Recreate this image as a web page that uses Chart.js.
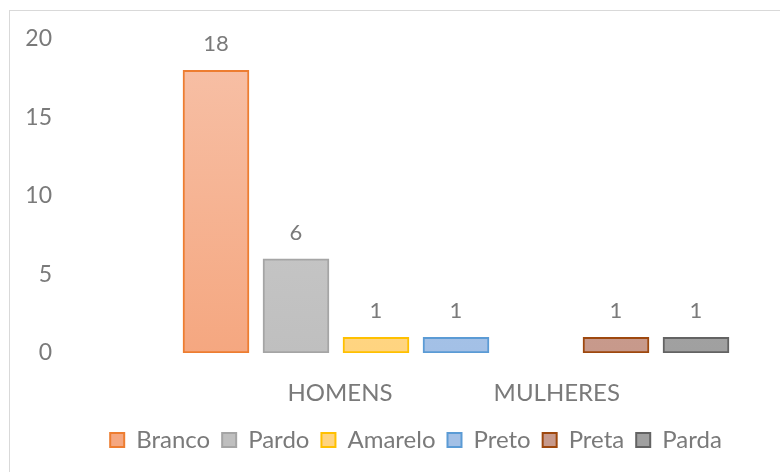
<!DOCTYPE html>
<html lang="pt">
<head>
    <meta charset="UTF-8">
    <title>Cor por sexo</title>
    <script src="https://cdn.jsdelivr.net/npm/chart.js"></script>
    <style>
        html, body { margin: 0; padding: 0; overflow: hidden; background: #fff; }
        #wrap { position: relative; width: 780px; height: 472px; }
        #frame { position: absolute; left: 9px; top: 10px; width: 820px; height: 520px;
                 border: 1px solid #d9d9d9; box-sizing: border-box; }
        canvas { position: absolute; left: 0; top: 0; }
    </style>
</head>
<body>
<div id="wrap">
    <div id="frame"></div>
    <canvas id="myChart" width="780" height="472"></canvas>
</div>

<script>
    // dados
    const categories = ['HOMENS', 'MULHERES'];
    const series = ['Branco', 'Pardo', 'Amarelo', 'Preto', 'Preta', 'Parda'];
    const homens = [18, 6, 1, 1, null, null];
    const mulheres = [null, null, null, null, 1, 1];
    const yTicks = [0, 5, 10, 15, 20];

    // layout (posicao das barras e dos rotulos das categorias no eixo x)
    const seriesSlot = [0, 1, 2, 3, 5, 6];
    const categoryPos = [1.55, 4.26];

    const textColor = '#7a7a7a';
    const fontFamily = 'Lato, "Open Sans", sans-serif';

    // cores: [topo, base, borda]
    const colors = [
        ['#f7c1a8', '#f5a780', '#ed7d31'],
        ['#cfcfcf', '#bfbfbf', '#a5a5a5'],
        ['#ffdb94', '#ffd480', '#ffc000'],
        ['#b0cbea', '#a3c0e6', '#5b9bd5'],
        ['#cda398', '#c7998b', '#9e480e'],
        ['#adadad', '#a0a0a0', '#636363']
    ];

    function f_grad(i){
        return function(ctx){
            const chart = ctx.chart;
            const area = chart.chartArea;
            if(!area) return colors[i][1];
            const g = chart.ctx.createLinearGradient(0, area.top, 0, area.bottom);
            g.addColorStop(0, colors[i][0]);
            g.addColorStop(1, colors[i][1]);
            return g;
        };
    }

    const datasets = series.map(function(name, i){
        const v = homens[i] !== null ? homens[i] : mulheres[i];
        return {
            label: name,
            data: [{x: seriesSlot[i], y: v}],
            backgroundColor: f_grad(i),
            borderColor: colors[i][2],
            borderWidth: 2,
            borderSkipped: false,
            grouped: false,
            barThickness: 66
        };
    });

    // rotulos de valor em cima das barras
    const valueLabels = {
        id: 'valueLabels',
        afterDatasetsDraw(chart){
            const c = chart.ctx;
            c.save();
            c.font = '22px ' + fontFamily;
            c.fillStyle = textColor;
            c.textAlign = 'center';
            c.textBaseline = 'middle';
            chart.data.datasets.forEach(function(ds, di){
                chart.getDatasetMeta(di).data.forEach(function(el, k){
                    c.fillText(String(ds.data[k].y), el.x, el.y - 26);
                });
            });
            c.restore();
        }
    };

    const ctx = document.getElementById('myChart').getContext('2d');
    const myChart = new Chart(ctx, {
        type: 'bar',
        data: { datasets: datasets },
        options: {
            responsive: false,
            animation: false,
            layout: { padding: { left: 0, right: 10, top: 39, bottom: 10 } },
            scales: {
                x: {
                    type: 'linear',
                    display: false,
                    offset: false,
                    min: -1.925,
                    max: 6.925
                },
                x2: {
                    type: 'linear',
                    position: 'bottom',
                    offset: false,
                    min: -1.925,
                    max: 6.925,
                    grid: { display: false, drawTicks: false },
                    border: { display: false },
                    afterBuildTicks: function(axis){
                        axis.ticks = categoryPos.map(function(p){ return {value: p}; });
                    },
                    afterFit: function(axis){
                        axis.height = 63;
                        axis.paddingLeft = 0;
                        axis.paddingRight = 0;
                    },
                    ticks: {
                        padding: 26,
                        color: textColor,
                        font: { family: fontFamily, size: 24 },
                        autoSkip: false,
                        maxRotation: 0,
                        callback: function(val, idx){ return categories[idx]; }
                    }
                },
                y: {
                    min: 0,
                    max: 20,
                    grid: { display: false, drawTicks: false },
                    border: { display: false },
                    afterBuildTicks: function(axis){
                        axis.ticks = yTicks.map(function(v){ return {value: v}; });
                    },
                    afterFit: function(axis){ axis.width = 62; },
                    ticks: {
                        padding: 10,
                        color: textColor,
                        font: { family: fontFamily, size: 23 }
                    }
                }
            },
            plugins: {
                legend: {
                    position: 'bottom',
                    fullSize: false,
                    labels: {
                        boxWidth: 14,
                        boxHeight: 14,
                        padding: 12,
                        color: textColor,
                        font: { family: fontFamily, size: 24 }
                    }
                },
                tooltip: { enabled: false }
            }
        },
        plugins: [valueLabels]
    });
</script>
</body>
</html>
